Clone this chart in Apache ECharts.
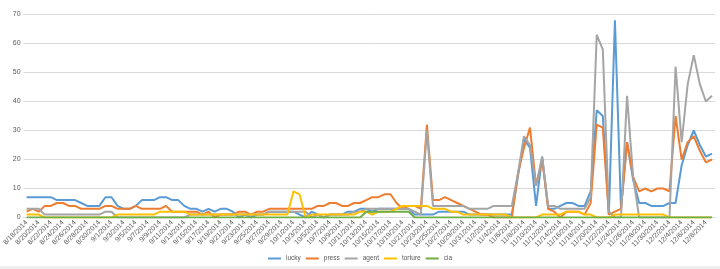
<!DOCTYPE html>
<html><head><meta charset="utf-8">
<script src="https://cdn.jsdelivr.net/npm/echarts@6/dist/echarts.min.js"></script>
<style>html,body{margin:0;padding:0;background:#fff;}#c{width:720px;height:269px;}</style>
</head><body><div id="c"></div>
<script>
const categories = [
'8/18/2014','8/19/2014','8/20/2014','8/21/2014','8/22/2014','8/23/2014','8/24/2014','8/25/2014','8/26/2014','8/27/2014','8/28/2014','8/29/2014','8/30/2014','8/31/2014',
'9/1/2014','9/2/2014','9/3/2014','9/4/2014','9/5/2014','9/6/2014','9/7/2014','9/8/2014','9/9/2014','9/10/2014','9/11/2014','9/12/2014','9/13/2014','9/14/2014','9/15/2014','9/16/2014','9/17/2014','9/18/2014','9/19/2014','9/20/2014','9/21/2014','9/22/2014','9/23/2014','9/24/2014','9/25/2014','9/26/2014','9/27/2014','9/28/2014','9/29/2014','9/30/2014',
'10/1/2014','10/2/2014','10/3/2014','10/4/2014','10/5/2014','10/6/2014','10/7/2014','10/8/2014','10/9/2014','10/10/2014','10/11/2014','10/12/2014','10/13/2014','10/14/2014','10/15/2014','10/16/2014','10/17/2014','10/18/2014','10/19/2014','10/20/2014','10/21/2014','10/22/2014','10/23/2014','10/24/2014','10/25/2014','10/26/2014','10/27/2014','10/28/2014','10/29/2014','10/30/2014','10/31/2014',
'11/1/2014','11/2/2014','11/3/2014','11/4/2014','11/5/2014','11/6/2014','11/7/2014','11/8/2014','11/9/2014','11/10/2014','11/11/2014','11/12/2014','11/13/2014','11/14/2014','11/15/2014','11/16/2014','11/17/2014','11/18/2014','11/19/2014','11/20/2014','11/21/2014','11/22/2014','11/23/2014','11/24/2014','11/25/2014','11/26/2014','11/27/2014','11/28/2014','11/29/2014','11/30/2014',
'12/1/2014','12/2/2014','12/3/2014','12/4/2014','12/5/2014','12/6/2014','12/7/2014','12/8/2014','12/9/2014'
];
const seriesNames = ['lucky','press','agent','torture','cia'];
const lucky = [7,7,7,7,7, 6,6,6,6, 5, 4,4,4, 7,7, 4, 3,3, 4, 6,6,6, 7,7, 6,6, 4, 3,3, 2, 3, 2, 3,3, 2, 0, 1, 0, 1,1, 2,2,2,2, 2, 1, 0, 2, 1, 0, 1,1,1, 2,2, 3,3, 2, 3,3,3,3,3,3, 1,1,1,1, 2,2,2,2,2, 1,1,1,1,1,1,1,1, 14, 27, 24, 4, 21, 3,3, 4, 5,5, 4,4, 9, 37, 35, 1, 68, 3, 26, 13, 5,5, 4,4,4, 5,5, 18, 25, 30, 25, 21, 22];
const press = [2,3,2, 4,4, 5,5, 4,4, 3,3,3,3, 4,4, 3,3,3, 4, 3,3,3,3, 4, 2,2,2,2,2, 1, 2, 0, 1,1,1, 2,2, 1, 2,2, 3,3,3,3,3,3,3,3, 4,4, 5,5, 4,4, 5,5, 6, 7,7, 8,8, 5, 3, 4,4, 3, 32, 6,6, 7, 6, 5, 4, 3, 2, 1,1, 0,0,0,0, 15, 24, 31, 11, 20, 3, 2, 0, 2,2,2, 1, 5, 32, 31, 1, 2, 3, 26, 14, 9, 10, 9, 10,10, 9, 35, 20, 26, 28, 23, 19, 20];
const agent = [3,3,3, 1,1,1,1,1,1,1,1,1,1, 2,2, 0,0,0,0,0,0,0,0,0,0,0,0, 1,1,1,1,1,1,1,1,1,1,1,1,1, 2,2,2,2,2,2,2, 0, 1, 0, 1,1,1,1, 2,2, 3,3,3,3,3,3,3,3, 2, 1, 30, 4,4,4,4,4,4, 3,3,3,3, 4,4,4,4, 15, 28, 25, 11, 21, 4,4, 3,3,3,3,3, 7, 63, 58, 2, 0,0, 42, 14, 0,0,0,0,0,0, 52, 26, 46, 56, 46, 40, 42];
const torture = [1,1,1, 0,0,0,0,0,0,0,0,0,0,0,0, 1,1,1,1,1,1,1, 2,2,2,2,2, 1,1,1,1,1,1,1,1,1,1,1,1,1,1,1,1,1, 9, 8, 0, 1,1,1,1,1,1,1,1, 2,2, 1, 2,2,2, 3, 4,4,4,4,4, 3,3,3, 2,2, 1,1,1,1,1,1,1,1, 0,0,0,0,0, 1,1,1,1, 2,2,2, 1, 1, 0, 0, 0, 1,1,1,1,1,1,1,1,1, 0,0,0,0,0,0,0,0];
const cia = [0,0,0,0,0,0,0,0,0,0,0,0,0,0,0,0,0,0,0,0,0,0,0,0,0,0,0,0,0,0,0,0,0,0,0,0,0,0,0,0,0,0,0,0,0,0,0,0,0,0,0,0,0,0,0,0, 2,2,2,2,2,2,2,2, 0,0,0,0,0,0,0,0,0,0,0,0,0,0,0,0,0,0,0,0,0,0,0,0,0,0,0,0,0,0,0,0,0,0,0,0,0,0,0,0,0,0,0,0,0,0,0,0,0,0];
const yMin = 0, yMax = 70, yStep = 10;
const colors = ['#5B9BD5','#ED7D31','#A5A5A5','#FFC000','#70AD47'];
const values = [lucky, press, agent, torture, cia];

const chart = echarts.init(document.getElementById('c'), null, {renderer:'canvas'});
chart.setOption({
  animation: false,
  color: colors,
  textStyle: {fontFamily: 'Liberation Sans'},
  grid: {left: 15, right: 5, top: 14.5, bottom: 51.5, containLabel: false},
  legend: {
    top: 250, left: 'center', icon: 'rect', itemWidth: 13, itemHeight: 2, itemGap: 5,
    textStyle: {fontSize: 6.5, color: '#595959', fontFamily: 'Liberation Sans'},
    data: seriesNames
  },
  xAxis: {
    type: 'category', data: categories, boundaryGap: true,
    axisLine: {lineStyle: {color: '#D9D9D9'}},
    axisTick: {show: false},
    axisLabel: {interval: 1, rotate: 45, fontSize: 7, color: '#595959', margin: 4, fontFamily: 'Liberation Sans'}
  },
  yAxis: {
    type: 'value', min: yMin, max: yMax, interval: yStep,
    axisLine: {show: false}, axisTick: {show: false},
    splitLine: {lineStyle: {color: '#D9D9D9', width: 1}},
    axisLabel: {fontSize: 7, color: '#595959', margin: 3, fontFamily: 'Liberation Sans'}
  },
  graphic: [{type: 'rect', shape: {x: 0, y: 266, width: 720, height: 3}, style: {fill: '#EDEDED'}, silent: true}],
  series: seriesNames.map((n, k) => ({
    name: n, type: 'line', data: values[k], symbol: 'none', smooth: false,
    lineStyle: {width: 2}
  }))
});
</script>
</body></html>
